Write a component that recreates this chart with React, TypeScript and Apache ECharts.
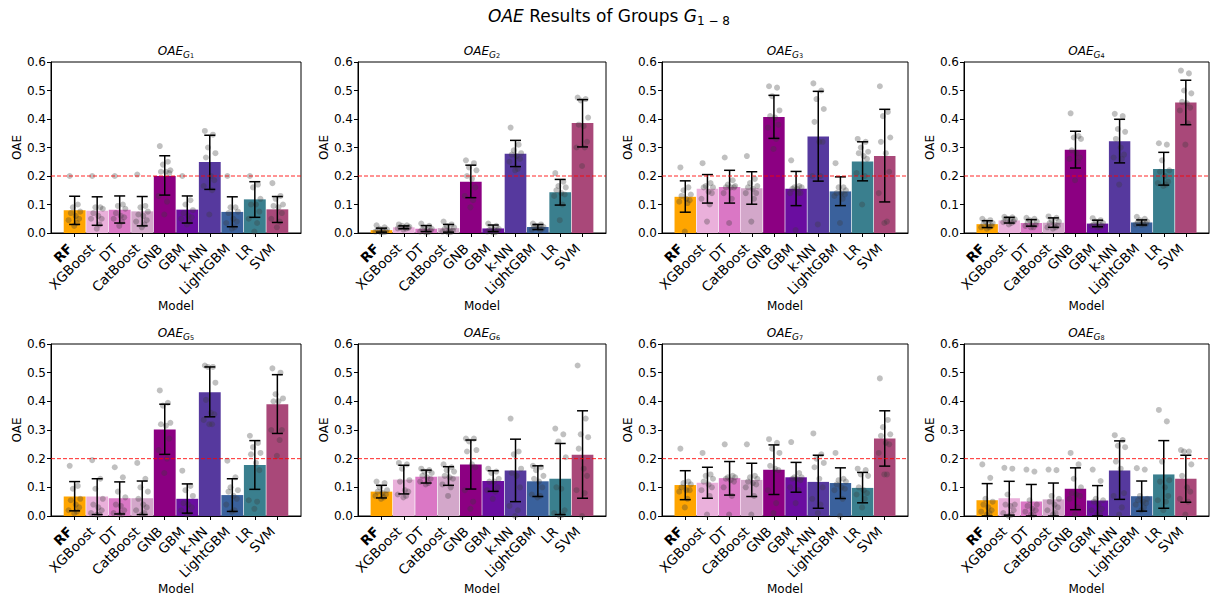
import React, { useEffect, useRef } from "react";
import * as echarts from "echarts";

const MODELS = ["RF", "XGBoost", "DT", "CatBoost", "GNB", "GBM", "k-NN", "LightGBM", "LR", "SVM"];
const COLORS = ["#FFA500", "#EAB0DB", "#DA77C5", "#D3A7CA", "#8C0082", "#6A0DA0", "#56399E", "#3A619C", "#3A7F8E", "#A94879"];
const Y_TICKS = [0, 0.1, 0.2, 0.3, 0.4, 0.5, 0.6];
const THRESHOLD = 0.2;
const JITTER = [-0.22, 0.14, -0.08, 0.25, -0.17, 0.05, 0.2, -0.27, 0.1, -0.02];

const G1_MEAN = [0.080, 0.078, 0.082, 0.076, 0.200, 0.082, 0.249, 0.074, 0.118, 0.083];
const G1_LO = [0.030, 0.027, 0.035, 0.025, 0.133, 0.035, 0.153, 0.022, 0.055, 0.037];
const G1_HI = [0.129, 0.127, 0.130, 0.128, 0.271, 0.130, 0.343, 0.127, 0.180, 0.128];
const G1_PTS = [
  [0.2, 0.1, 0.09, 0.075, 0.07, 0.06, 0.05, 0.045, 0.035, 0.025],
  [0.2, 0.09, 0.09, 0.085, 0.07, 0.06, 0.05, 0.05, 0.03, 0.015],
  [0.2, 0.1, 0.095, 0.085, 0.07, 0.06, 0.055, 0.05, 0.04, 0.025],
  [0.205, 0.095, 0.09, 0.075, 0.065, 0.06, 0.045, 0.04, 0.03, 0.02],
  [0.305, 0.25, 0.24, 0.22, 0.215, 0.215, 0.21, 0.13, 0.11, 0.065],
  [0.2, 0.115, 0.1, 0.08, 0.07, 0.06, 0.055, 0.05, 0.04, 0.03],
  [0.358, 0.345, 0.3, 0.28, 0.265, 0.2, 0.185, 0.165, 0.15, 0.065],
  [0.2, 0.09, 0.09, 0.075, 0.07, 0.05, 0.04, 0.035, 0.02, 0.015],
  [0.2, 0.17, 0.16, 0.12, 0.1, 0.1, 0.075, 0.05, 0.035, 0.005],
  [0.175, 0.13, 0.12, 0.1, 0.095, 0.09, 0.07, 0.05, 0.04, 0.02],
];

const G2_MEAN = [0.010, 0.020, 0.015, 0.017, 0.180, 0.016, 0.278, 0.021, 0.143, 0.386];
const G2_LO = [0.003, 0.015, 0.005, 0.003, 0.124, 0.005, 0.233, 0.012, 0.098, 0.302];
const G2_HI = [0.017, 0.025, 0.026, 0.030, 0.238, 0.028, 0.325, 0.030, 0.188, 0.468];
const G2_PTS = [
  [0.027, 0.02, 0.015, 0.012, 0.01, 0.008, 0.005, 0.005, 0.003, 0.002],
  [0.03, 0.027, 0.025, 0.022, 0.02, 0.02, 0.018, 0.016, 0.015, 0.012],
  [0.033, 0.025, 0.02, 0.015, 0.012, 0.01, 0.008, 0.005, 0.003, 0.002],
  [0.04, 0.03, 0.025, 0.02, 0.015, 0.01, 0.008, 0.005, 0.003, 0.002],
  [0.255, 0.245, 0.23, 0.22, 0.2, 0.19, 0.16, 0.13, 0.115, 0.09],
  [0.033, 0.025, 0.02, 0.015, 0.01, 0.01, 0.008, 0.005, 0.003, 0.002],
  [0.37, 0.31, 0.29, 0.28, 0.275, 0.27, 0.26, 0.25, 0.225, 0.22],
  [0.033, 0.03, 0.025, 0.022, 0.02, 0.018, 0.015, 0.012, 0.01, 0.02],
  [0.21, 0.18, 0.165, 0.16, 0.15, 0.14, 0.135, 0.13, 0.1, 0.045],
  [0.475, 0.47, 0.465, 0.405, 0.38, 0.375, 0.32, 0.3, 0.3, 0.235],
];

const G3_MEAN = [0.127, 0.155, 0.161, 0.157, 0.407, 0.155, 0.339, 0.146, 0.251, 0.270];
const G3_LO = [0.073, 0.105, 0.105, 0.101, 0.332, 0.096, 0.182, 0.096, 0.183, 0.109];
const G3_HI = [0.183, 0.205, 0.220, 0.215, 0.483, 0.216, 0.497, 0.197, 0.320, 0.434];
const G3_PTS = [
  [0.23, 0.16, 0.15, 0.135, 0.13, 0.12, 0.115, 0.11, 0.105, 0.005],
  [0.245, 0.175, 0.165, 0.16, 0.16, 0.145, 0.14, 0.12, 0.1, 0.04],
  [0.265, 0.185, 0.17, 0.165, 0.16, 0.16, 0.16, 0.14, 0.12, 0.035],
  [0.27, 0.19, 0.175, 0.165, 0.16, 0.155, 0.14, 0.14, 0.12, 0.04],
  [0.515, 0.51, 0.48, 0.43, 0.41, 0.405, 0.38, 0.37, 0.33, 0.295],
  [0.255, 0.165, 0.16, 0.16, 0.155, 0.155, 0.14, 0.14, 0.14, 0.01],
  [0.525, 0.5, 0.47, 0.435, 0.39, 0.32, 0.32, 0.2, 0.2, 0.03],
  [0.245, 0.16, 0.16, 0.15, 0.14, 0.14, 0.135, 0.13, 0.12, 0.035],
  [0.33, 0.32, 0.3, 0.285, 0.28, 0.27, 0.26, 0.21, 0.2, 0.1],
  [0.515, 0.425, 0.41, 0.335, 0.32, 0.28, 0.215, 0.14, 0.04, 0.035],
];

const G4_MEAN = [0.031, 0.044, 0.035, 0.036, 0.292, 0.033, 0.322, 0.037, 0.225, 0.458];
const G4_LO = [0.019, 0.035, 0.024, 0.020, 0.228, 0.022, 0.246, 0.028, 0.168, 0.380];
const G4_HI = [0.043, 0.055, 0.047, 0.053, 0.357, 0.045, 0.399, 0.046, 0.283, 0.536];
const G4_PTS = [
  [0.05, 0.045, 0.04, 0.035, 0.03, 0.03, 0.025, 0.02, 0.02, 0.015],
  [0.057, 0.055, 0.05, 0.048, 0.045, 0.042, 0.04, 0.038, 0.035, 0.03],
  [0.053, 0.05, 0.045, 0.04, 0.035, 0.03, 0.028, 0.025, 0.02, 0.02],
  [0.058, 0.053, 0.045, 0.04, 0.035, 0.03, 0.025, 0.02, 0.02, 0.015],
  [0.42, 0.34, 0.335, 0.33, 0.29, 0.28, 0.265, 0.26, 0.25, 0.185],
  [0.052, 0.045, 0.04, 0.035, 0.03, 0.03, 0.025, 0.025, 0.02, 0.02],
  [0.418, 0.41, 0.365, 0.355, 0.33, 0.3, 0.275, 0.265, 0.26, 0.17],
  [0.057, 0.05, 0.045, 0.04, 0.038, 0.035, 0.032, 0.03, 0.03, 0.028],
  [0.315, 0.31, 0.255, 0.22, 0.215, 0.2, 0.18, 0.175, 0.17, 0.165],
  [0.57, 0.56, 0.5, 0.49, 0.46, 0.455, 0.44, 0.43, 0.385, 0.31],
];

const G5_MEAN = [0.068, 0.068, 0.062, 0.062, 0.302, 0.060, 0.432, 0.073, 0.178, 0.390];
const G5_LO = [0.018, 0.005, 0.007, 0.005, 0.215, 0.010, 0.346, 0.016, 0.093, 0.288];
const G5_HI = [0.120, 0.130, 0.119, 0.122, 0.390, 0.112, 0.520, 0.130, 0.263, 0.493];
const G5_PTS = [
  [0.175, 0.105, 0.095, 0.06, 0.055, 0.04, 0.03, 0.02, 0.015, 0.01],
  [0.195, 0.13, 0.095, 0.06, 0.04, 0.03, 0.02, 0.01, 0.005, 0.005],
  [0.17, 0.135, 0.085, 0.065, 0.04, 0.035, 0.02, 0.01, 0.005, 0.005],
  [0.185, 0.13, 0.1, 0.085, 0.06, 0.04, 0.03, 0.02, 0.01, 0.005],
  [0.438, 0.395, 0.385, 0.325, 0.32, 0.315, 0.27, 0.23, 0.2, 0.15],
  [0.158, 0.105, 0.09, 0.07, 0.045, 0.04, 0.03, 0.02, 0.01, 0.005],
  [0.525, 0.52, 0.52, 0.465, 0.405, 0.36, 0.355, 0.335, 0.32, 0.32],
  [0.193, 0.135, 0.1, 0.09, 0.085, 0.07, 0.06, 0.04, 0.02, 0.015],
  [0.28, 0.255, 0.24, 0.22, 0.215, 0.185, 0.16, 0.055, 0.05, 0.025],
  [0.515, 0.5, 0.425, 0.41, 0.4, 0.4, 0.3, 0.3, 0.265, 0.21],
];

const G6_MEAN = [0.085, 0.127, 0.137, 0.138, 0.180, 0.122, 0.159, 0.121, 0.130, 0.214];
const G6_LO = [0.063, 0.077, 0.115, 0.107, 0.094, 0.086, 0.050, 0.068, 0.005, 0.062];
const G6_HI = [0.107, 0.177, 0.160, 0.172, 0.265, 0.158, 0.268, 0.175, 0.253, 0.367];
const G6_PTS = [
  [0.12, 0.115, 0.1, 0.09, 0.085, 0.08, 0.075, 0.07, 0.065, 0.06],
  [0.185, 0.18, 0.165, 0.125, 0.12, 0.09, 0.085, 0.075, 0.07, 0.065],
  [0.165, 0.16, 0.155, 0.15, 0.14, 0.135, 0.13, 0.12, 0.115, 0.11],
  [0.18, 0.17, 0.16, 0.155, 0.14, 0.135, 0.13, 0.11, 0.1, 0.07],
  [0.27, 0.27, 0.26, 0.23, 0.225, 0.18, 0.17, 0.09, 0.05, 0.025],
  [0.165, 0.155, 0.15, 0.13, 0.12, 0.12, 0.1, 0.09, 0.085, 0.06],
  [0.34, 0.225, 0.215, 0.165, 0.15, 0.14, 0.1, 0.035, 0.02, 0.0],
  [0.175, 0.17, 0.16, 0.14, 0.13, 0.12, 0.1, 0.075, 0.07, 0.065],
  [0.305, 0.285, 0.26, 0.205, 0.1, 0.095, 0.02, 0.01, 0.005, 0.0],
  [0.525, 0.34, 0.285, 0.275, 0.235, 0.165, 0.14, 0.09, 0.08, 0.0],
];

const G7_MEAN = [0.108, 0.116, 0.132, 0.126, 0.161, 0.135, 0.119, 0.115, 0.098, 0.270];
const G7_LO = [0.057, 0.062, 0.073, 0.068, 0.075, 0.083, 0.027, 0.061, 0.046, 0.174];
const G7_HI = [0.158, 0.170, 0.190, 0.184, 0.248, 0.187, 0.212, 0.168, 0.152, 0.367];
const G7_PTS = [
  [0.235, 0.12, 0.115, 0.11, 0.1, 0.09, 0.09, 0.085, 0.06, 0.03],
  [0.22, 0.145, 0.14, 0.13, 0.12, 0.11, 0.1, 0.09, 0.07, 0.005],
  [0.25, 0.14, 0.135, 0.135, 0.13, 0.125, 0.12, 0.1, 0.07, 0.005],
  [0.25, 0.14, 0.135, 0.13, 0.12, 0.115, 0.11, 0.1, 0.07, 0.005],
  [0.268, 0.255, 0.235, 0.22, 0.175, 0.165, 0.16, 0.09, 0.045, 0.01],
  [0.258, 0.15, 0.135, 0.135, 0.13, 0.13, 0.125, 0.1, 0.09, 0.045],
  [0.288, 0.215, 0.2, 0.185, 0.17, 0.13, 0.1, 0.06, 0.04, 0.01],
  [0.22, 0.13, 0.125, 0.12, 0.11, 0.1, 0.095, 0.09, 0.06, 0.0],
  [0.165, 0.16, 0.145, 0.14, 0.1, 0.09, 0.08, 0.075, 0.06, 0.03],
  [0.48, 0.335, 0.31, 0.285, 0.28, 0.255, 0.25, 0.22, 0.145, 0.145],
];

const G8_MEAN = [0.055, 0.062, 0.051, 0.058, 0.095, 0.054, 0.159, 0.069, 0.145, 0.130];
const G8_LO = [0.000, 0.003, 0.000, 0.000, 0.022, 0.000, 0.058, 0.017, 0.027, 0.048];
const G8_HI = [0.113, 0.121, 0.110, 0.115, 0.168, 0.106, 0.262, 0.122, 0.263, 0.212];
const G8_PTS = [
  [0.18, 0.133, 0.06, 0.05, 0.04, 0.03, 0.02, 0.015, 0.01, 0.005],
  [0.168, 0.165, 0.075, 0.04, 0.04, 0.035, 0.02, 0.01, 0.005, 0.0],
  [0.162, 0.155, 0.055, 0.04, 0.035, 0.025, 0.02, 0.015, 0.005, 0.005],
  [0.162, 0.16, 0.07, 0.06, 0.05, 0.04, 0.03, 0.02, 0.01, 0.005],
  [0.22, 0.18, 0.13, 0.1, 0.08, 0.075, 0.07, 0.06, 0.03, 0.005],
  [0.162, 0.122, 0.06, 0.055, 0.05, 0.04, 0.025, 0.02, 0.01, 0.005],
  [0.282, 0.265, 0.245, 0.24, 0.19, 0.165, 0.08, 0.07, 0.03, 0.005],
  [0.167, 0.162, 0.07, 0.06, 0.055, 0.05, 0.045, 0.04, 0.03, 0.02],
  [0.37, 0.33, 0.19, 0.125, 0.12, 0.1, 0.07, 0.055, 0.05, 0.02],
  [0.23, 0.225, 0.225, 0.18, 0.14, 0.1, 0.085, 0.06, 0.05, 0.005],
];

const GROUPS = [
  { mean: G1_MEAN, lo: G1_LO, hi: G1_HI, pts: G1_PTS },
  { mean: G2_MEAN, lo: G2_LO, hi: G2_HI, pts: G2_PTS },
  { mean: G3_MEAN, lo: G3_LO, hi: G3_HI, pts: G3_PTS },
  { mean: G4_MEAN, lo: G4_LO, hi: G4_HI, pts: G4_PTS },
  { mean: G5_MEAN, lo: G5_LO, hi: G5_HI, pts: G5_PTS },
  { mean: G6_MEAN, lo: G6_LO, hi: G6_HI, pts: G6_PTS },
  { mean: G7_MEAN, lo: G7_LO, hi: G7_HI, pts: G7_PTS },
  { mean: G8_MEAN, lo: G8_LO, hi: G8_HI, pts: G8_PTS },
];

const FONT = "DejaVu Sans";
const COL_LEFT = [51, 358, 662, 964];
const COL_WIDTH = [250, 248, 246, 245];
const ROW_TOP = [62, 344];
const ROW_HEIGHT = [171, 172];
const X_MIN = -1.05;
const X_MAX = 10.05;

function buildOption() {
  const grids: any[] = [];
  const xAxes: any[] = [];
  const yAxes: any[] = [];
  const series: any[] = [];
  const titles: any[] = [];

  titles.push({
    text: "{i|OAE}{n| Results of Groups }{i|G}{s|1 − 8}",
    left: 609,
    top: 5,
    textAlign: "center",
    padding: 0,
    textStyle: {
      fontWeight: "normal",
      rich: {
        i: { fontFamily: FONT, fontSize: 17, fontStyle: "italic", fontWeight: "normal", color: "#000", lineHeight: 22, verticalAlign: "middle" },
        n: { fontFamily: FONT, fontSize: 17, fontWeight: "normal", color: "#000", lineHeight: 22, verticalAlign: "middle" },
        s: { fontFamily: FONT, fontSize: 12, fontWeight: "normal", color: "#000", lineHeight: 12, verticalAlign: "bottom" },
      },
    },
  });

  GROUPS.forEach((g, k) => {
    const row = Math.floor(k / 4);
    const col = k % 4;
    const left = COL_LEFT[col];
    const width = COL_WIDTH[col];
    const top = ROW_TOP[row];
    const height = ROW_HEIGHT[row];
    grids.push({ left, top, width, height, show: true, borderColor: "#000", borderWidth: 1, backgroundColor: "transparent" });
    titles.push({
      text: `{a|OAE}{b|G}{c|${k + 1}}`,
      left: left + width / 2,
      top: top - 20,
      textAlign: "center",
      padding: 0,
      textStyle: {
        fontWeight: "normal",
        rich: {
          a: { fontFamily: FONT, fontSize: 12, fontStyle: "italic", fontWeight: "normal", color: "#000", lineHeight: 17, verticalAlign: "middle" },
          b: { fontFamily: FONT, fontSize: 9, fontStyle: "italic", fontWeight: "normal", color: "#000", lineHeight: 10, verticalAlign: "bottom" },
          c: { fontFamily: FONT, fontSize: 6.5, fontWeight: "normal", color: "#000", lineHeight: 6, verticalAlign: "bottom" },
        },
      },
    });
    xAxes.push({
      type: "value",
      gridIndex: k,
      min: X_MIN,
      max: X_MAX,
      name: "Model",
      nameLocation: "middle",
      nameGap: 67,
      nameTextStyle: { fontFamily: FONT, fontSize: 12, color: "#000" },
      axisLine: { show: true, onZero: false, lineStyle: { color: "#000", width: 1 } },
      axisTick: { show: true, length: 4, customValues: MODELS.map((_, i) => i), lineStyle: { color: "#000" } },
      axisLabel: {
        show: true,
        customValues: MODELS.map((_, i) => i),
        rotate: 45,
        margin: 18,
        verticalAlign: "bottom",
        fontFamily: FONT,
        fontSize: 13.5,
        color: "#000",
        formatter: (v: number) => {
          const name = MODELS[Math.round(v)] ?? "";
          return name === "RF" ? `{b|${name}}` : name;
        },
        rich: { b: { fontFamily: FONT, fontSize: 13.5, fontWeight: "bold", color: "#000", verticalAlign: "bottom" } },
      },
      splitLine: { show: false },
    });
    yAxes.push({
      type: "value",
      gridIndex: k,
      min: Y_TICKS[0],
      max: Y_TICKS[Y_TICKS.length - 1],
      interval: 0.1,
      name: "OAE",
      nameLocation: "middle",
      nameGap: 27,
      nameTextStyle: { fontFamily: FONT, fontSize: 12, color: "#000" },
      axisLine: { show: true, onZero: false, lineStyle: { color: "#000", width: 1 } },
      axisTick: { show: true, length: 4, lineStyle: { color: "#000" } },
      axisLabel: { fontFamily: FONT, fontSize: 12, color: "#000", margin: 5, formatter: (v: number) => v.toFixed(1) },
      splitLine: { show: false },
    });

    series.push({
      type: "custom",
      xAxisIndex: k,
      yAxisIndex: k,
      z: 1,
      encode: { x: 0, y: 1 },
      data: g.mean.map((v, i) => [i, v]),
      renderItem: (params: any, api: any) => {
        const i = api.value(0);
        const v = api.value(1);
        const a = api.coord([i - 0.485, v]);
        const b = api.coord([i + 0.485, 0]);
        return {
          type: "rect",
          shape: { x: a[0], y: a[1], width: b[0] - a[0], height: b[1] - a[1] },
          style: { fill: COLORS[i] },
        };
      },
    });

    const pts: number[][] = [];
    g.pts.forEach((arr, i) => arr.forEach((v, j) => pts.push([i + JITTER[j], v])));
    series.push({
      type: "scatter",
      xAxisIndex: k,
      yAxisIndex: k,
      z: 2,
      symbol: "circle",
      symbolSize: 6,
      itemStyle: { color: "rgba(60,60,60,0.4)", borderWidth: 0 },
      data: pts,
    });

    series.push({
      type: "custom",
      xAxisIndex: k,
      yAxisIndex: k,
      z: 3,
      encode: { x: 0, y: [1, 2] },
      data: g.mean.map((_, i) => [i, g.lo[i], g.hi[i]]),
      renderItem: (params: any, api: any) => {
        const i = api.value(0);
        const p1 = api.coord([i, api.value(1)]);
        const p2 = api.coord([i, api.value(2)]);
        const cap = 5.5;
        const st = { stroke: "#000", lineWidth: 1.5 };
        return {
          type: "group",
          children: [
            { type: "line", shape: { x1: p1[0], y1: p1[1], x2: p2[0], y2: p2[1] }, style: st },
            { type: "line", shape: { x1: p1[0] - cap, y1: p1[1], x2: p1[0] + cap, y2: p1[1] }, style: st },
            { type: "line", shape: { x1: p2[0] - cap, y1: p2[1], x2: p2[0] + cap, y2: p2[1] }, style: st },
          ],
        };
      },
    });

    series.push({
      type: "line",
      xAxisIndex: k,
      yAxisIndex: k,
      z: 4,
      symbol: "none",
      silent: true,
      lineStyle: { color: "rgba(255,0,0,0.85)", width: 1, type: [4, 2] },
      data: [
        [X_MIN, THRESHOLD],
        [X_MAX, THRESHOLD],
      ],
    });
  });

  return {
    animation: false,
    backgroundColor: "#fff",
    title: titles,
    grid: grids,
    xAxis: xAxes,
    yAxis: yAxes,
    series,
  };
}

export default function App() {
  const ref = useRef<HTMLDivElement>(null);
  useEffect(() => {
    if (!ref.current) return;
    const chart = echarts.init(ref.current, undefined, { renderer: "svg" });
    chart.setOption(buildOption());
    return () => chart.dispose();
  }, []);
  return <div ref={ref} style={{ position: "fixed", left: 0, top: 0, width: 1211, height: 601 }} />;
}
